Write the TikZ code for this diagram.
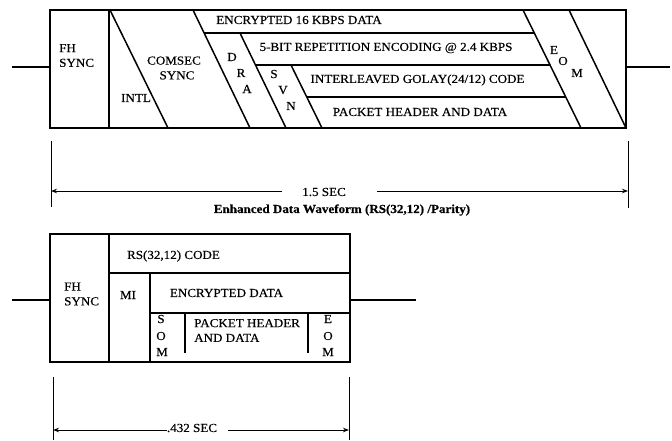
\documentclass[tikz,border=0pt]{standalone}
\usepackage{fontspec}
\setmainfont{Liberation Serif}[FakeStretch=1.07,FakeBold=0.35]
\usetikzlibrary{arrows.meta}
\tikzset{
  frame/.style={line width=1.5pt},
  dimline/.style={line width=1pt},
  dimarrow/.style={line width=1pt,-{Stealth[length=6pt,width=4.5pt]}},
  lbl/.style={inner sep=0pt,font=\fontsize{12.2}{14.8}\selectfont},
  captext/.style={inner sep=0pt,font=\fontsize{12.2}{14.8}\selectfont\bfseries}
}
\begin{document}
\begin{tikzpicture}[x=1pt,y=-1pt]
\useasboundingbox[fill=white] (0,0) rectangle (672,440);
% ---------- top waveform ----------
\draw[frame] (50,10) rectangle (626,128);
\draw[frame] (12,67) -- (50,67);
\draw[frame] (626,67) -- (670,67);
\draw[frame] (109,10) -- (109,128);
\draw[frame] (110,10) -- (168,128);
\draw[frame] (193,10) -- (250,128);
\draw[frame] (204.1,33) -- (534.3,33);
\draw[frame] (240,33) -- (286,128);
\draw[frame] (255.5,65) -- (550,65);
\draw[frame] (291,65) -- (322,128);
\draw[frame] (306.7,97) -- (565.8,97);
\draw[frame] (523,10) -- (581,128);
\draw[frame] (569,10) -- (626,128);
\node[lbl,anchor=west,align=left] (fha) at (59,55.5) {FH\\SYNC};
\node[lbl,align=center] (comsec) at (174,68) {COMSEC\\\hspace*{6pt}SYNC};
\node[lbl] (intl) at (136,98) {INTL};
\node[lbl] (d) at (232,57) {D};
\node[lbl] (r) at (241,73) {R};
\node[lbl] (a) at (247,89) {A};
\node[lbl] (s) at (274,74) {S};
\node[lbl] (v) at (283,90) {V};
\node[lbl] (n) at (291,106) {N};
\node[lbl] (enc16) at (299,20) {ENCRYPTED 16 KBPS DATA};
\node[lbl] (rep) at (386,48) {5-BIT REPETITION ENCODING @ 2.4 KBPS};
\node[lbl] (golay) at (417.5,80) {INTERLEAVED GOLAY(24/12) CODE};
\node[lbl] (pkta) at (420,112) {PACKET HEADER AND DATA};
\node[lbl] (ea) at (554,50) {E};
\node[lbl] (oa) at (563,61) {O};
\node[lbl] (ma) at (577,73) {M};
% ---------- dimension 1.5 SEC ----------
\coordinate (t1a) at (51,141);
\coordinate (t1b) at (51,207);
\coordinate (t2a) at (628,141);
\coordinate (t2b) at (628,208);
\draw[dimline] (t1a) -- (t1b);
\draw[dimline] (t2a) -- (t2b);
\node[lbl] (sec15) at (324,192) {1.5 SEC};
\coordinate (l1) at (282,191);
\coordinate (l1e) at (51,191);
\coordinate (r1) at (377,191);
\coordinate (r1e) at (628,191);
\draw[dimarrow] (l1) -- (l1e);
\draw[dimarrow] (r1) -- (r1e);
\node[captext] (caption) at (342,210) {Enhanced Data Waveform (RS(32,12) /Parity)};
% ---------- bottom waveform ----------
\draw[frame] (50,234) rectangle (350,362);
\draw[frame] (12,300) -- (50,300);
\draw[frame] (350,300) -- (416,300);
\draw[frame] (109,234) -- (109,362);
\draw[frame] (109,273) -- (350,273);
\draw[frame] (150,273) -- (150,362);
\draw[frame] (150,313) -- (350,313);
\draw[frame] (185,313) -- (185,353);
\draw[frame] (308,313) -- (308,353);
\node[lbl,anchor=west,align=left] (fhb) at (64,294) {FH\\SYNC};
\node[lbl] (rs) at (173.5,256) {RS(32,12) CODE};
\node[lbl] (mi) at (128,295) {MI};
\node[lbl] (encd) at (226.5,293) {ENCRYPTED DATA};
\node[lbl] (sb) at (161,319) {S};
\node[lbl] (ob) at (161,336) {O};
\node[lbl] (mb) at (162,352) {M};
\node[lbl,anchor=west,align=left] (pktb) at (194,330.5) {PACKET HEADER\\AND DATA};
\node[lbl] (eb) at (328,319) {E};
\node[lbl] (oc) at (328,336) {O};
\node[lbl] (mc) at (328,352) {M};
% ---------- dimension .432 SEC ----------
\coordinate (t3a) at (53,377);
\coordinate (t3b) at (53,440);
\coordinate (t4a) at (349,377);
\coordinate (t4b) at (349,440);
\draw[dimline] (t3a) -- (t3b);
\draw[dimline] (t4a) -- (t4b);
\node[lbl] (sec432) at (192,428) {.432 SEC};
\coordinate (l2) at (167,430);
\coordinate (l2e) at (53,430);
\coordinate (r2) at (228,430);
\coordinate (r2e) at (349,430);
\draw[dimarrow] (l2) -- (l2e);
\draw[dimarrow] (r2) -- (r2e);
\end{tikzpicture}
\end{document}
